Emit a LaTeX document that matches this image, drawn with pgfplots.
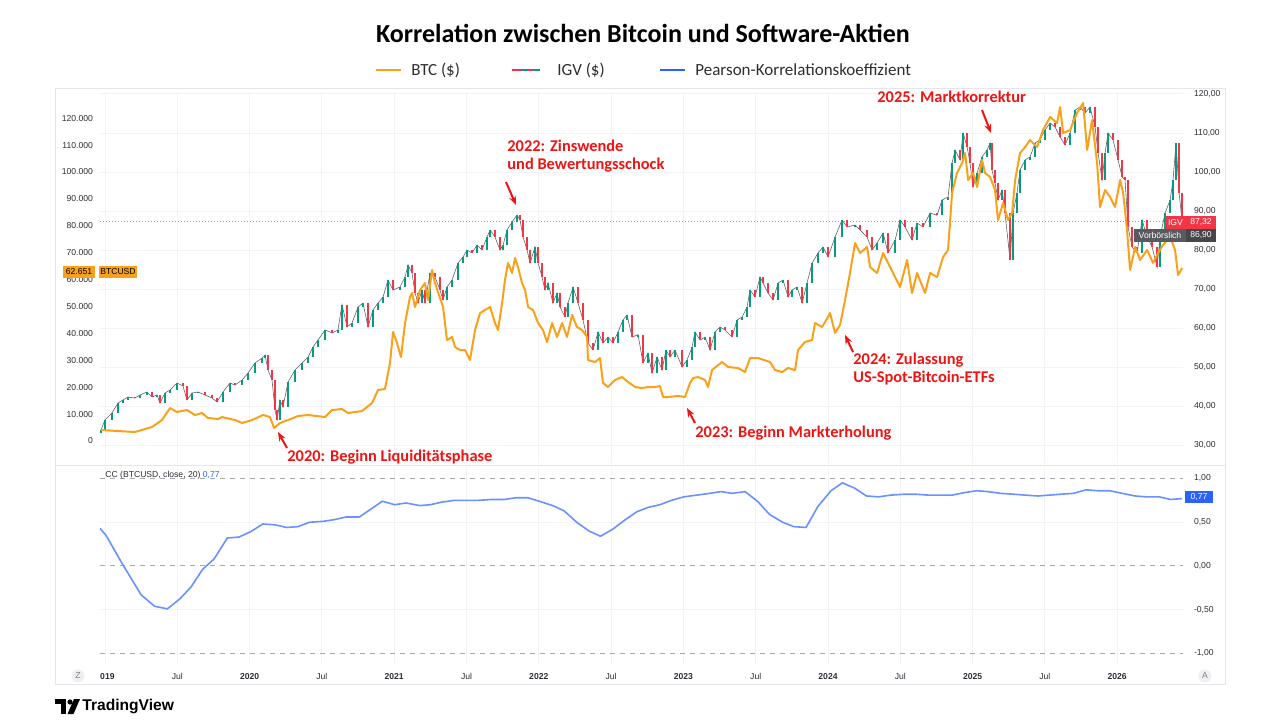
\documentclass[border=0pt]{standalone}
\usepackage{pgfplots}
\pgfplotsset{compat=1.18}
\usepackage{pgfplotstable}
\usepackage{fontspec}
\setmainfont{Carlito}
\newfontfamily\tvfont{Liberation Sans}
\usetikzlibrary{arrows.meta}

\definecolor{btc}{RGB}{250,161,27}
\definecolor{up}{RGB}{8,153,129}
\definecolor{down}{RGB}{242,54,69}
\definecolor{wick}{RGB}{95,100,100}
\definecolor{cc}{RGB}{105,145,255}
\definecolor{ccb}{RGB}{41,98,255}
\definecolor{annot}{RGB}{238,20,20}
\definecolor{gridc}{RGB}{241,243,247}
\definecolor{framec}{RGB}{228,230,236}
\definecolor{dashc}{RGB}{165,168,175}
\definecolor{tickc}{RGB}{45,45,50}
\definecolor{vbg}{RGB}{88,90,96}
\definecolor{vbg2}{RGB}{70,70,75}
\definecolor{btnc}{RGB}{238,239,242}

\newcommand{\tk}{\tvfont\fontsize{4.3}{5}\selectfont}
\newcommand{\annf}{\fontsize{8.2}{9}\selectfont\bfseries}

\pgfplotstableread{
t v
2018.972 4089
2019.207 3345
2019.325 5204
2019.394 7806
2019.450 12266
2019.498 10779
2019.567 11523
2019.622 9664
2019.671 10408
2019.712 8549
2019.782 8177
2019.809 8921
2019.899 7806
2019.948 6691
2020.017 7806
2020.093 9664
2020.141 8921
2020.169 4832
2020.210 6691
2020.266 7806
2020.335 9293
2020.404 9664
2020.522 8921
2020.570 11523
2020.639 11894
2020.681 10408
2020.777 11151
2020.847 14125
2020.888 18957
2020.936 19328
2020.971 28993
2020.992 40515
2021.019 36427
2021.047 31223
2021.075 43861
2021.096 49808
2021.109 53525
2021.123 55012
2021.144 49808
2021.179 56127
2021.213 58729
2021.234 52410
2021.262 63561
2021.282 58729
2021.317 53153
2021.338 49808
2021.365 37542
2021.400 38657
2021.421 34940
2021.455 33825
2021.490 33825
2021.524 30108
2021.559 41259
2021.594 47578
2021.628 48693
2021.663 49808
2021.697 43861
2021.718 41259
2021.746 51295
2021.766 59844
2021.787 66163
2021.815 62446
2021.836 68021
2021.856 64676
2021.884 58729
2021.905 56127
2021.926 49808
2021.960 48693
2021.995 43861
2022.029 41259
2022.057 36798
2022.092 43861
2022.126 38657
2022.161 43861
2022.195 38657
2022.230 46834
2022.264 42374
2022.299 41259
2022.334 38657
2022.340 30108
2022.389 29364
2022.423 30851
2022.444 21559
2022.479 20072
2022.527 22674
2022.576 23789
2022.617 21930
2022.666 20072
2022.714 19700
2022.755 20072
2022.804 20072
2022.838 20444
2022.859 16355
2022.894 16355
2022.963 16727
2023.011 16355
2023.046 21559
2023.067 23417
2023.101 23789
2023.150 22674
2023.170 20072
2023.198 26391
2023.267 29364
2023.309 27506
2023.378 27134
2023.426 25647
2023.461 30851
2023.516 30851
2023.599 29364
2023.634 26391
2023.682 25647
2023.724 27134
2023.772 26391
2023.793 33825
2023.841 36798
2023.890 37542
2023.910 43861
2023.959 42374
2024.000 46091
2024.014 47578
2024.049 40144
2024.083 43117
2024.118 52410
2024.152 62446
2024.187 73597
2024.222 69880
2024.270 72110
2024.291 64676
2024.339 62446
2024.381 69880
2024.415 66163
2024.450 62446
2024.498 57242
2024.547 67278
2024.581 55012
2024.616 62446
2024.671 55012
2024.706 62446
2024.754 60959
2024.796 68393
2024.830 70995
2024.858 92182
2024.892 99616
2024.927 103333
2024.948 107050
2024.969 97014
2025.003 99616
2025.031 94412
2025.065 104448
2025.086 99616
2025.121 98129
2025.155 93297
2025.176 82146
2025.211 88465
2025.245 82146
2025.273 84748
2025.294 97014
2025.328 107050
2025.363 109280
2025.397 111882
2025.446 109280
2025.487 115599
2025.536 120431
2025.584 118201
2025.605 124148
2025.626 114484
2025.674 115599
2025.722 121918
2025.764 125635
2025.792 108165
2025.826 119316
2025.861 103333
2025.881 86978
2025.916 93297
2025.951 90695
2025.985 86978
2026.020 97014
2026.041 92182
2026.068 78429
2026.089 63561
2026.124 72110
2026.158 67278
2026.207 70995
2026.248 66163
2026.283 69880
2026.317 72853
2026.366 75827
2026.400 70995
2026.421 61702
2026.449 64304
}\btcdata

\pgfplotstableread{
t o c
2018.972 33.20 33.85
2019.000 33.85 36.41
2019.048 36.41 38.21
2019.090 38.21 40.77
2019.124 40.77 41.54
2019.159 41.54 42.31
2019.207 42.31 42.05
2019.242 42.05 42.82
2019.290 42.82 43.59
2019.325 43.59 42.31
2019.360 42.31 42.82
2019.380 42.82 40.77
2019.415 40.77 43.33
2019.450 43.33 44.10
2019.498 44.10 45.90
2019.539 45.90 45.13
2019.567 45.13 41.54
2019.602 41.54 43.33
2019.643 43.33 43.60
2019.692 43.60 42.82
2019.740 42.82 42.05
2019.775 42.05 41.03
2019.816 41.03 43.59
2019.865 43.59 45.90
2019.899 45.90 45.38
2019.948 45.38 46.67
2019.989 46.67 48.46
2020.037 48.46 51.03
2020.086 51.03 52.31
2020.107 52.31 53.08
2020.127 53.08 49.23
2020.155 49.23 46.67
2020.176 46.67 38.97
2020.190 38.97 36.41
2020.210 36.41 41.54
2020.231 41.54 39.74
2020.266 39.74 46.15
2020.314 46.15 49.23
2020.362 49.23 51.03
2020.404 51.03 52.56
2020.439 52.56 55.13
2020.473 55.13 56.92
2020.522 56.92 59.49
2020.570 59.49 58.72
2020.611 58.72 59.49
2020.639 59.49 66.00
2020.674 66.00 60.26
2020.708 60.26 61.28
2020.750 61.28 65.38
2020.784 65.38 66.41
2020.819 66.41 60.26
2020.853 60.26 64.62
2020.888 64.62 66.41
2020.923 66.41 67.95
2020.957 67.95 72.31
2020.992 72.31 69.74
2021.040 69.74 70.51
2021.075 70.51 73.08
2021.096 73.08 76.15
2021.123 76.15 74.10
2021.144 74.10 68.97
2021.165 68.97 66.41
2021.192 66.41 69.74
2021.213 69.74 66.41
2021.248 66.41 74.10
2021.282 74.10 73.08
2021.317 73.08 69.74
2021.338 69.74 67.18
2021.365 67.18 70.51
2021.400 70.51 72.31
2021.441 72.31 76.67
2021.476 76.67 78.21
2021.504 78.21 80.00
2021.538 80.00 79.23
2021.573 79.23 81.28
2021.607 81.28 80.00
2021.642 80.00 83.33
2021.663 83.33 85.13
2021.697 85.13 83.33
2021.732 83.33 80.00
2021.753 80.00 81.28
2021.780 81.28 85.13
2021.815 85.13 87.18
2021.849 87.18 88.97
2021.870 88.97 87.69
2021.891 87.69 83.33
2021.919 83.33 80.00
2021.939 80.00 76.67
2021.974 76.67 80.77
2021.995 80.77 76.67
2022.022 76.67 73.08
2022.043 73.08 69.74
2022.064 69.74 71.54
2022.098 71.54 66.41
2022.126 66.41 68.97
2022.147 68.97 65.38
2022.181 65.38 62.82
2022.202 62.82 66.41
2022.237 66.41 70.51
2022.271 70.51 66.41
2022.306 66.41 62.05
2022.340 62.05 56.15
2022.375 56.15 54.36
2022.410 54.36 58.97
2022.444 58.97 56.15
2022.479 56.15 57.69
2022.513 57.69 56.15
2022.548 56.15 58.97
2022.582 58.97 62.05
2022.610 62.05 63.33
2022.645 63.33 57.69
2022.686 57.69 58.30
2022.721 58.30 51.03
2022.755 51.03 53.59
2022.783 53.59 48.46
2022.818 48.46 52.56
2022.852 52.56 49.23
2022.880 49.23 54.36
2022.908 54.36 52.56
2022.942 52.56 54.36
2022.991 54.36 50.00
2023.025 50.00 51.79
2023.060 51.79 55.13
2023.080 55.13 58.97
2023.115 58.97 56.92
2023.150 56.92 57.69
2023.184 57.69 54.36
2023.219 54.36 58.97
2023.253 58.97 60.26
2023.288 60.26 59.49
2023.336 59.49 57.69
2023.371 57.69 62.05
2023.406 62.05 62.82
2023.440 62.82 65.38
2023.461 65.38 69.74
2023.495 69.74 67.95
2023.530 67.95 73.08
2023.551 73.08 71.54
2023.585 71.54 68.97
2023.620 68.97 67.18
2023.655 67.18 71.54
2023.689 71.54 72.31
2023.724 72.31 67.95
2023.751 67.95 69.74
2023.786 69.74 70.51
2023.821 70.51 66.41
2023.855 66.41 71.54
2023.890 71.54 76.67
2023.931 76.67 79.23
2023.966 79.23 80.77
2024.000 80.77 78.21
2024.049 78.21 83.33
2024.097 83.33 87.69
2024.132 87.69 85.90
2024.187 85.90 86.41
2024.222 86.41 85.13
2024.270 85.13 83.33
2024.305 83.33 80.00
2024.339 80.00 81.79
2024.381 81.79 84.36
2024.415 84.36 79.23
2024.464 79.23 82.56
2024.498 82.56 87.69
2024.533 87.69 85.90
2024.581 85.90 82.56
2024.616 82.56 86.92
2024.657 86.92 85.90
2024.706 85.90 89.49
2024.754 89.49 88.90
2024.789 88.90 92.82
2024.830 92.82 93.59
2024.858 93.59 102.31
2024.879 102.31 105.64
2024.913 105.64 103.08
2024.934 103.08 110.00
2024.962 110.00 106.41
2024.982 106.41 102.31
2025.003 102.31 96.15
2025.031 96.15 99.74
2025.065 99.74 103.85
2025.100 103.85 105.64
2025.121 105.64 107.44
2025.134 107.44 100.51
2025.155 100.51 97.18
2025.176 97.18 92.82
2025.204 92.82 95.38
2025.224 95.38 89.49
2025.259 89.49 77.44
2025.280 77.44 89.49
2025.307 89.49 94.62
2025.328 94.62 100.51
2025.363 100.51 103.08
2025.397 103.08 103.85
2025.432 103.85 107.44
2025.466 107.44 108.21
2025.501 108.21 110.77
2025.536 110.77 112.56
2025.570 112.56 111.54
2025.605 111.54 108.97
2025.639 108.97 106.92
2025.674 106.92 110.00
2025.709 110.00 115.90
2025.743 115.90 116.67
2025.778 116.67 115.13
2025.812 115.13 116.67
2025.847 116.67 111.54
2025.868 111.54 104.87
2025.895 104.87 97.95
2025.916 97.95 104.87
2025.937 104.87 110.00
2025.971 110.00 108.21
2026.006 108.21 103.08
2026.034 103.08 98.72
2026.054 98.72 97.95
2026.075 97.95 85.90
2026.103 85.90 80.77
2026.137 80.77 79.23
2026.172 79.23 87.69
2026.207 87.69 83.33
2026.241 83.33 80.77
2026.276 80.77 75.64
2026.296 75.64 83.33
2026.331 83.33 89.49
2026.366 89.49 92.82
2026.386 92.82 97.95
2026.407 97.95 107.44
2026.428 107.44 94.62
2026.449 94.62 87.32
}\igvdata

\pgfplotstableread{
t r
2018.965 0.43
2019.007 0.35
2019.118 0.03
2019.250 -0.33
2019.343 -0.46
2019.431 -0.49
2019.515 -0.38
2019.595 -0.24
2019.674 -0.04
2019.754 0.08
2019.846 0.32
2019.925 0.33
2020.005 0.39
2020.092 0.48
2020.177 0.47
2020.257 0.44
2020.335 0.45
2020.415 0.50
2020.508 0.51
2020.587 0.53
2020.667 0.56
2020.759 0.56
2020.839 0.65
2020.918 0.74
2021.003 0.70
2021.082 0.72
2021.177 0.69
2021.249 0.70
2021.329 0.73
2021.416 0.75
2021.500 0.75
2021.580 0.75
2021.672 0.76
2021.760 0.76
2021.845 0.78
2021.924 0.78
2022.003 0.74
2022.096 0.69
2022.175 0.63
2022.262 0.50
2022.347 0.40
2022.427 0.34
2022.511 0.42
2022.599 0.53
2022.678 0.62
2022.757 0.67
2022.837 0.70
2022.917 0.75
2023.002 0.79
2023.092 0.81
2023.182 0.83
2023.260 0.85
2023.337 0.83
2023.427 0.85
2023.518 0.73
2023.595 0.59
2023.686 0.50
2023.763 0.45
2023.848 0.44
2023.930 0.68
2024.021 0.86
2024.099 0.95
2024.184 0.89
2024.266 0.80
2024.349 0.79
2024.434 0.81
2024.524 0.82
2024.607 0.82
2024.692 0.81
2024.782 0.81
2024.859 0.81
2024.950 0.84
2025.027 0.86
2025.105 0.85
2025.195 0.83
2025.285 0.82
2025.363 0.81
2025.453 0.80
2025.531 0.81
2025.608 0.82
2025.698 0.83
2025.783 0.87
2025.866 0.86
2025.949 0.86
2026.034 0.83
2026.124 0.80
2026.202 0.79
2026.292 0.79
2026.369 0.76
2026.447 0.77
}\ccdata

\begin{document}
\begin{tikzpicture}[x=0.5pt,y=0.5pt]
\useasboundingbox (0,-720) rectangle (1280,0);

% container frame
\draw[framec, line width=0.5pt] (55,-88) rectangle (1225,-684);
\draw[framec, line width=0.5pt] (55,-465) -- (1225,-465);

% title
\node[font=\fontsize{13}{15}\selectfont\bfseries, text=black] at (643,-33) {Korrelation zwischen Bitcoin und Software-Aktien};

% legend
\draw[btc, line width=1.1pt] (376,-70) -- (401,-70);
\node[anchor=west, inner sep=0, font=\fontsize{8.5}{10}\selectfont, text=tickc] at (411,-70) {BTC (\$)};
\draw[down, line width=1.1pt] (512,-70) -- (521,-70);
\draw[up, line width=1.1pt] (521,-70) -- (528,-70);
\draw[down, line width=1.1pt] (528,-70) -- (533,-70);
\draw[up, line width=1.1pt] (533,-70) -- (540,-70);
\node[anchor=west, inner sep=0, font=\fontsize{8.5}{10}\selectfont, text=tickc] at (557,-70) {IGV (\$)};
\draw[ccb, line width=1.1pt] (660,-70) -- (685,-70);
\node[anchor=west, inner sep=0, font=\fontsize{8.5}{10}\selectfont, text=tickc] at (695,-70) {Pearson-Korrelationskoeffizient};

% ===== IGV axis (right scale, candles) =====
\begin{axis}[
  at={(50pt,-231.5pt)}, anchor=south west, scale only axis,
  width=541.5pt, height=185.5pt,
  xmin=2018.9654, xmax=2026.455, ymin=25.385, ymax=120.513,
  axis line style={draw=none}, major tick style={draw=none},
  xtick={2019,2019.5,2020,2020.5,2021,2021.5,2022,2022.5,2023,2023.5,2024,2024.5,2025,2025.5,2026},
  xticklabel={\relax},
  scaled x ticks=false,
  ytick={30,40,50,60,70,80,90,100,110,120},
  yticklabels={{30,00},{40,00},{50,00},{60,00},{70,00},{80,00},{90,00},{100,00},{110,00},{120,00}},
  yticklabel pos=right,
  yticklabel style={font=\tk, text=tickc, xshift=2pt},
  xmajorgrids, ymajorgrids, major grid style={gridc, line width=0.5pt},
]
\draw[down!75, line width=0.6pt, dash pattern=on 0.6pt off 0.9pt] (axis cs:2018.9654,87.32) -- (axis cs:2026.455,87.32);
\addplot[wick, line width=0.3pt] table[x=t, y=c] {\igvdata};
\addplot[up, line width=1.1pt, quiver={u=0, v=\thisrow{c}-\thisrow{o}},
  restrict expr to domain={\thisrow{c}-\thisrow{o}}{0:500}] table[x=t, y=o] {\igvdata};
\addplot[down, line width=1.1pt, quiver={u=0, v=\thisrow{c}-\thisrow{o}},
  restrict expr to domain={\thisrow{c}-\thisrow{o}}{-500:-0.0001}] table[x=t, y=o] {\igvdata};
\end{axis}

% ===== BTC axis (left scale, line) =====
\begin{axis}[
  at={(50pt,-231.5pt)}, anchor=south west, scale only axis,
  width=541.5pt, height=185.5pt,
  xmin=2018.9654, xmax=2026.455, ymin=-8177, ymax=129723,
  axis line style={draw=none}, major tick style={draw=none},
  xtick=\empty, scaled y ticks=false,
  ytick={0,10000,20000,30000,40000,50000,60000,70000,80000,90000,100000,110000,120000},
  yticklabels={0,{10.000},{20.000},{30.000},{40.000},{50.000},{60.000},{70.000},{80.000},{90.000},{100.000},{110.000},{120.000}},
  yticklabel pos=left,
  yticklabel style={font=\tk, text=tickc, xshift=0pt},
]
\addplot[btc, line width=1pt, line join=round] table[x=t, y=v] {\btcdata};
\end{axis}

% ===== correlation axis =====
\begin{axis}[
  at={(50pt,-332pt)}, anchor=south west, scale only axis,
  width=541.5pt, height=98.5pt,
  xmin=2018.9654, xmax=2026.455, ymin=-1.12, ymax=1.131,
  axis line style={draw=none}, major tick style={draw=none},
  xtick={2019,2019.5,2020,2020.5,2021,2021.5,2022,2022.5,2023,2023.5,2024,2024.5,2025,2025.5,2026},
  xticklabels={{\bfseries\phantom{2}019},Jul,{\bfseries 2020},Jul,{\bfseries 2021},Jul,{\bfseries 2022},Jul,{\bfseries 2023},Jul,{\bfseries 2024},Jul,{\bfseries 2025},Jul,{\bfseries 2026}},
  xticklabel style={font=\tk, text=tickc, yshift=-1pt},
  ytick={-1,-0.5,0,0.5,1},
  yticklabels={{-1,00},{-0,50},{0,00},{0,50},{1,00}},
  yticklabel pos=right,
  yticklabel style={font=\tk, text=tickc, xshift=2pt},
  xmajorgrids, major grid style={gridc, line width=0.5pt},
]
\draw[gridc, line width=0.5pt] (axis cs:2018.9654,0.5) -- (axis cs:2026.455,0.5);
\draw[gridc, line width=0.5pt] (axis cs:2018.9654,-0.5) -- (axis cs:2026.455,-0.5);
\draw[dashc, line width=0.5pt, dash pattern=on 2.5pt off 2.5pt] (axis cs:2018.9654,1) -- (axis cs:2026.455,1);
\draw[dashc, line width=0.5pt, dash pattern=on 2.5pt off 2.5pt] (axis cs:2018.9654,0) -- (axis cs:2026.455,0);
\draw[dashc, line width=0.5pt, dash pattern=on 2.5pt off 2.5pt] (axis cs:2018.9654,-1) -- (axis cs:2026.455,-1);
\addplot[cc, line width=0.8pt, line join=round] table[x=t, y=r] {\ccdata};
\end{axis}

% price labels
\node[fill=btc, inner sep=0, minimum width=16pt, minimum height=6pt, font=\tk, text=black] at (79,-272) {62.651};
\node[fill=btc, inner sep=0, minimum width=19pt, minimum height=6pt, font=\tk, text=black] at (118,-272) {BTCUSD};
\node[fill=down, inner sep=0, minimum width=10.5pt, minimum height=6.3pt, font=\tk, text=white] at (1175.5,-222.5) {IGV};
\node[fill=down, inner sep=0, minimum width=15pt, minimum height=6.3pt, font=\tk, text=white] at (1201,-222.5) {87,32};
\node[fill=vbg, inner sep=0, minimum width=26pt, minimum height=6.3pt, font=\tk, text=white] at (1160,-235.5) {Vorbörslich};
\node[fill=vbg2, inner sep=0, minimum width=15pt, minimum height=6.3pt, font=\tk, text=white] at (1201,-235.5) {86,90};
\node[fill=ccb, inner sep=0, minimum width=14pt, minimum height=6pt, font=\tk, text=white] at (1199,-497) {0,77};
\node[anchor=west, inner sep=0, font=\tk, text=tickc] at (105,-475) {CC (BTCUSD, close, 20)\ \textcolor{ccb}{0,77}};

% Z / A buttons
\fill[btnc] (78,-676) circle (6.5);
\node[font=\tk, text=gray] at (78,-676) {Z};
\fill[btnc] (1205,-676) circle (6.5);
\node[font=\tk, text=gray] at (1205,-676) {A};

% annotations
\node[annot, anchor=west, inner sep=0, font=\annf] at (287,-457) {2020: Beginn Liquiditätsphase};
\draw[annot, line width=1pt, -{Stealth[length=4.5pt,width=3.5pt]}] (287,-448) -- (278,-432);
\node[annot, anchor=west, align=left, inner sep=0, font=\annf] at (507,-156) {2022: Zinswende\\und Bewertungsschock};
\draw[annot, line width=1pt, -{Stealth[length=4.5pt,width=3.5pt]}] (506,-182) -- (516,-205);
\node[annot, anchor=west, inner sep=0, font=\annf] at (695,-433) {2023: Beginn Markterholung};
\draw[annot, line width=1pt, -{Stealth[length=4.5pt,width=3.5pt]}] (695,-423) -- (687,-408);
\node[annot, anchor=west, align=left, inner sep=0, font=\annf] at (853,-369.5) {2024: Zulassung\\US-Spot-Bitcoin-ETFs};
\draw[annot, line width=1pt, -{Stealth[length=4.5pt,width=3.5pt]}] (853,-352) -- (845,-335);
\node[annot, anchor=west, inner sep=0, font=\annf] at (877,-97) {2025: Marktkorrektur};
\draw[annot, line width=1pt, -{Stealth[length=4.5pt,width=3.5pt]}] (982,-110) -- (991,-133);

% TradingView logo
\fill[black] (55,-699) rectangle (66,-704);
\fill[black] (60.5,-704) rectangle (66,-714);
\fill[black] (70,-702) circle (2.6);
\fill[black] (74,-699) -- (80,-699) -- (73.5,-714) -- (67.5,-714) -- cycle;
\node[anchor=west, inner sep=0, font=\tvfont\fontsize{7.8}{9}\selectfont\bfseries, text=black] at (82,-706.5) {TradingView};
\end{tikzpicture}
\end{document}
